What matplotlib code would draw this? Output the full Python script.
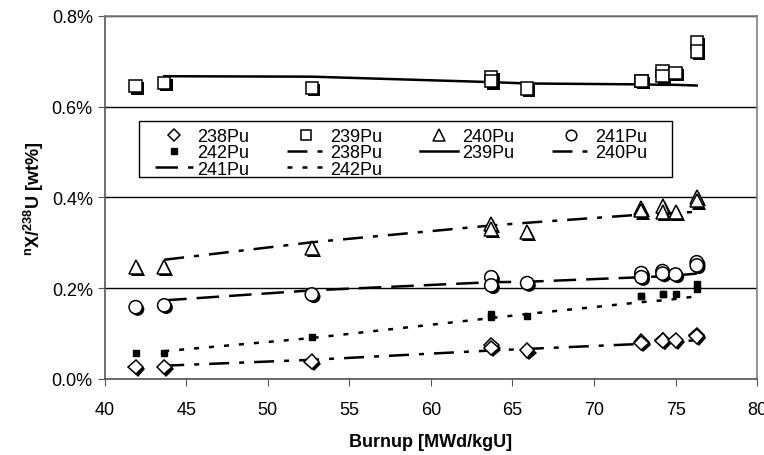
import matplotlib
matplotlib.use("Agg")
import matplotlib.pyplot as plt
import matplotlib.patheffects as pe
from matplotlib.patches import Rectangle
from matplotlib.ticker import FuncFormatter, MultipleLocator

plt.rcParams['font.family'] = ['Liberation Sans', 'DejaVu Sans']
plt.rcParams['mathtext.fontset'] = 'custom'
plt.rcParams['mathtext.rm'] = 'Liberation Sans'
plt.rcParams['mathtext.bf'] = 'Liberation Sans:bold'

# Burnup of the measured samples
burnup = [41.9, 43.65, 52.7, 63.7, 63.7, 65.9, 72.9, 72.9, 74.2, 74.2, 75.0, 76.3, 76.3]

pu238 = [0.026, 0.026, 0.038, 0.0735, 0.068, 0.0625, 0.082, 0.079, 0.085, 0.084, 0.085, 0.096, 0.094]
pu239 = [0.645, 0.652, 0.641, 0.665, 0.656, 0.640, 0.657, 0.657, 0.679, 0.667, 0.674, 0.741, 0.721]
pu240 = [0.246, 0.246, 0.289, 0.342, 0.331, 0.324, 0.376, 0.371, 0.381, 0.368, 0.368, 0.401, 0.393]
pu241 = [0.158, 0.162, 0.186, 0.224, 0.206, 0.211, 0.233, 0.224, 0.2375, 0.232, 0.23, 0.257, 0.250]
pu242 = [0.057, 0.057, 0.092, 0.143, 0.136, 0.1375, 0.182, 0.182, 0.186, 0.186, 0.186, 0.210, 0.199]

# Trend lines
trend_x = [43.65, 52.7, 63.7, 65.9, 72.9, 74.2, 75.0, 76.3]
t238 = [0.029, 0.042, 0.0625, 0.066, 0.077, 0.080, 0.082, 0.085]
t239 = [0.667, 0.666, 0.654, 0.651, 0.649, 0.648, 0.648, 0.6465]
t240 = [0.2625, 0.301, 0.338, 0.344, 0.362, 0.364, 0.366, 0.368]
t241 = [0.173, 0.195, 0.213, 0.214, 0.224, 0.226, 0.228, 0.232]
t242 = [0.061, 0.090, 0.134, 0.143, 0.169, 0.173, 0.176, 0.182]

fig = plt.figure(figsize=(7.64, 4.56), dpi=100)
ax = fig.add_axes([0.137, 0.167, 0.854, 0.796])

shadow = [pe.SimplePatchShadow(offset=(1.5, -1.5), shadow_rgbFace='black', alpha=1.0), pe.Normal()]

# lines
l238, = ax.plot(trend_x, t238, color='black', lw=1.8, dashes=(8, 4, 2, 4), label='238Pu')
l239, = ax.plot(trend_x, t239, color='black', lw=1.8, ls='-', label='239Pu')
l240, = ax.plot(trend_x, t240, color='black', lw=1.8, dashes=(8, 4, 2, 4), label='240Pu')
l241, = ax.plot(trend_x, t241, color='black', lw=1.8, dashes=(9, 4), label='241Pu')
l242, = ax.plot(trend_x, t242, color='black', lw=1.8, dashes=(2, 4), label='242Pu')

# markers
m238, = ax.plot(burnup, pu238, ls='none', marker='D', ms=7.5, mfc='white', mec='black', mew=1.1, label='238Pu')
m239, = ax.plot(burnup, pu239, ls='none', marker='s', ms=9, mfc='white', mec='black', mew=1.1, label='239Pu')
m240, = ax.plot(burnup, pu240, ls='none', marker='^', ms=10, mfc='white', mec='black', mew=1.1, label='240Pu')
m241, = ax.plot(burnup, pu241, ls='none', marker='o', ms=9.5, mfc='white', mec='black', mew=1.1, label='241Pu')
m242, = ax.plot(burnup, pu242, ls='none', marker='s', ms=5, mfc='black', mec='black', label='242Pu')
for m in (m238, m239, m240, m241):
    m.set_path_effects(shadow)

ax.set_xlim(40, 80)
ax.set_ylim(0, 0.8)
ax.xaxis.set_major_locator(MultipleLocator(5))
ax.yaxis.set_major_locator(MultipleLocator(0.2))
ax.yaxis.set_major_formatter(FuncFormatter(lambda v, p: f"{v:.1f}%"))
ax.tick_params(axis='both', labelsize=13, direction='out', length=5, color='#555555')
ax.tick_params(axis='x', pad=11)
ax.grid(axis='y', color='black', lw=1.0)
ax.set_axisbelow(True)
for s in ('top', 'right'):
    ax.spines[s].set_color('#808080')
    ax.spines[s].set_linewidth(1.2)
for s in ('left', 'bottom'):
    ax.spines[s].set_color('#555555')
    ax.spines[s].set_linewidth(1.2)

ax.set_xlabel('Burnup [MWd/kgU]', fontsize=13, fontweight='bold', labelpad=11)
ax.set_ylabel(r'$\mathbf{^{n}X/^{238}U\ [wt\%]}$', fontsize=13, labelpad=4)

# Legend frame drawn separately
ax.add_patch(Rectangle((0.0526, 0.556), 0.8171, 0.1544, transform=ax.transAxes,
                       facecolor='white', edgecolor='black', lw=1.0, zorder=4))

# Legend (row-major reading: matplotlib fills column-wise)
handles = [m238, m242, l241, m239, l238, l242, m240, l239, m241, l240]
leg = ax.legend(handles=handles, labels=[h.get_label() for h in handles], ncol=4,
                loc='upper left', bbox_to_anchor=(0.0716, 0.700), fontsize=13,
                frameon=False, borderpad=0.2, labelspacing=-0.05, handlelength=2.1,
                handletextpad=0.25, columnspacing=2.1, borderaxespad=0, markerscale=0.8)
leg.set_zorder(5)
for h in leg.legend_handles:
    h.set_path_effects([])

fig.savefig('out.png', dpi=100)
